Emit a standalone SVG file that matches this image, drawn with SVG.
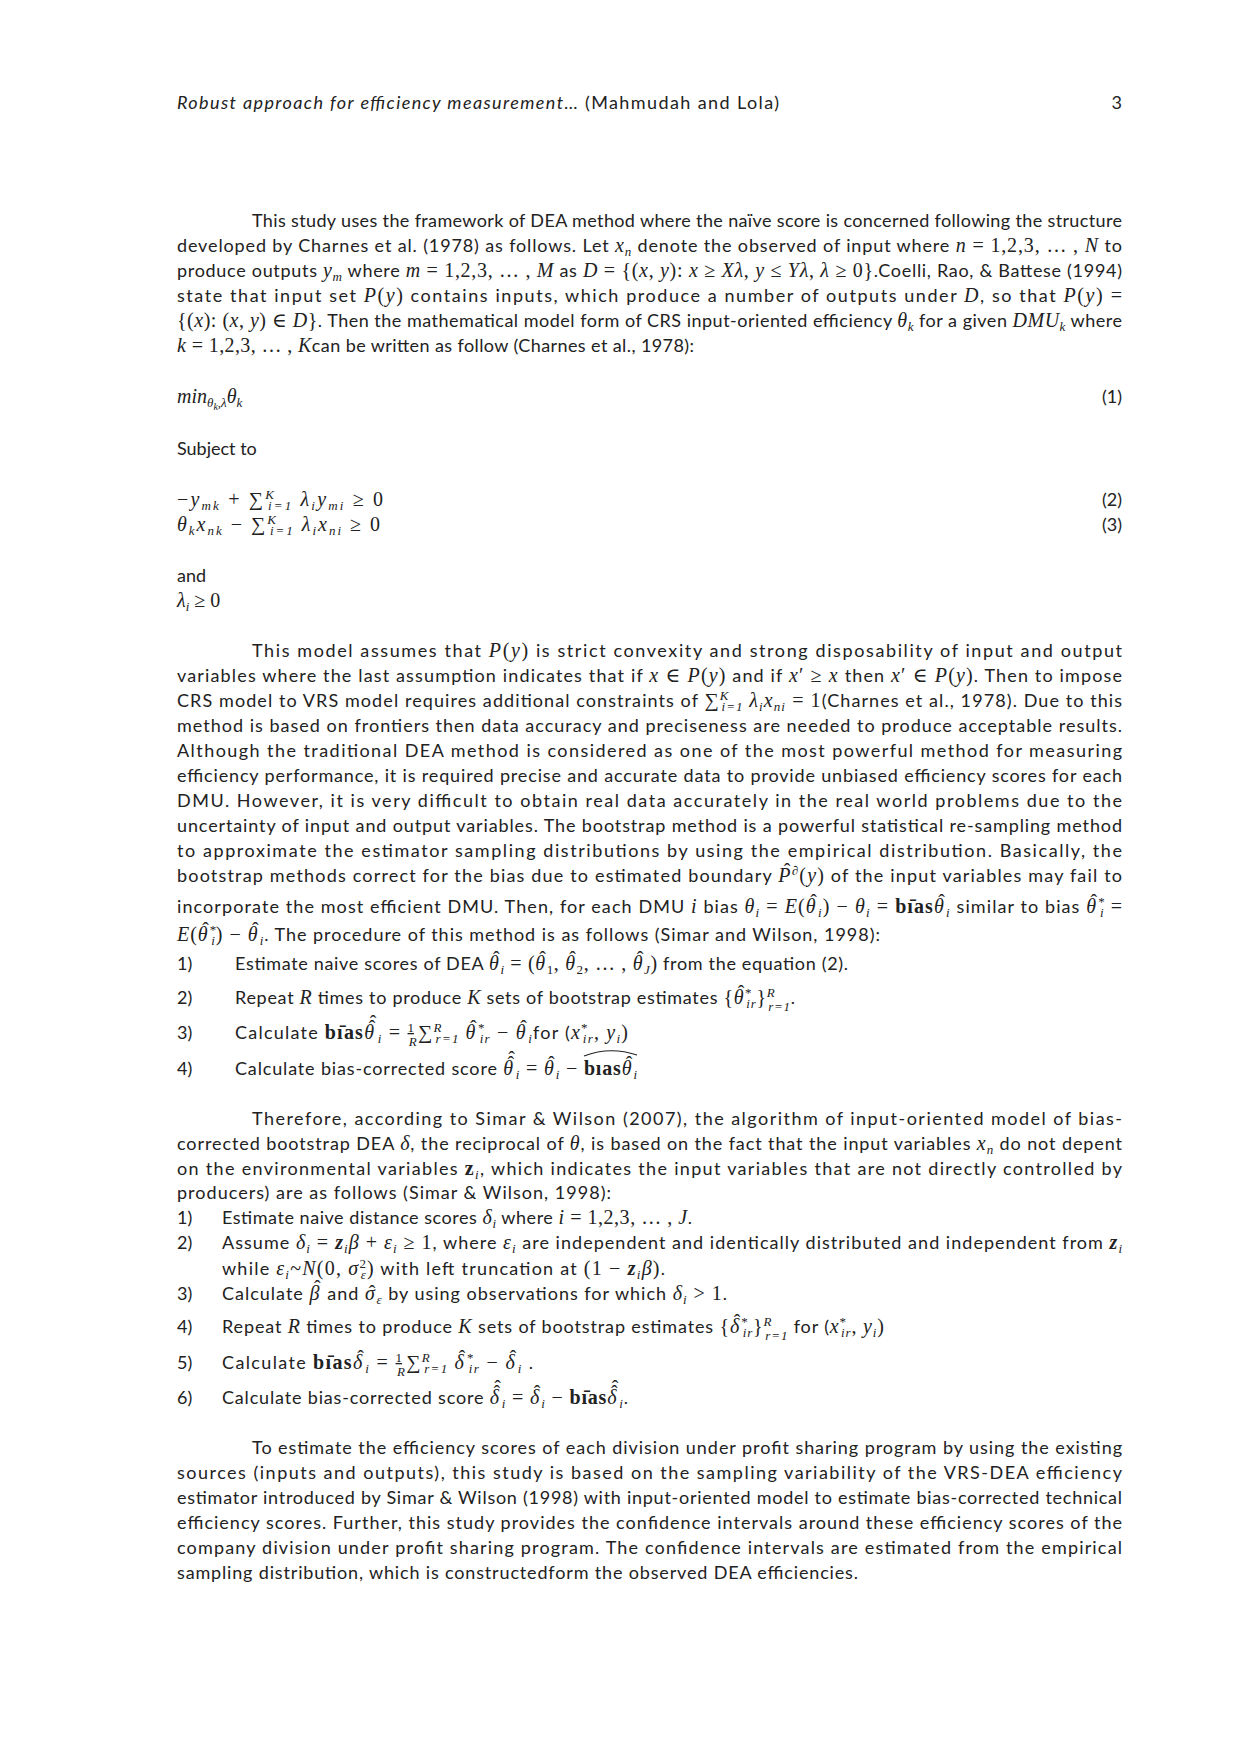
<svg xmlns="http://www.w3.org/2000/svg" width="1240" height="1754" viewBox="0 0 1240 1754">
<style>
text{fill:#222}
.t{font-family:Lato,"Liberation Sans",sans-serif;font-size:18px}
.m{font-family:"Liberation Serif","DejaVu Serif",serif;font-style:italic;font-size:20px}
.u{font-family:"Liberation Serif","DejaVu Serif",serif;font-style:normal;font-size:20px}
.h{font-family:"Liberation Serif","DejaVu Serif",serif;font-style:normal;font-size:20px;baseline-shift:4px}
.h2{font-family:"Liberation Serif","DejaVu Serif",serif;font-style:normal;font-size:20px;baseline-shift:9px}
.s{font-size:13px}
.x{font-size:10px}
.sb{baseline-shift:-4px}
.sp{baseline-shift:7px}
.fn{baseline-shift:7px;text-decoration:underline}
.fd{baseline-shift:-7px}
.b{font-weight:bold}
.i{font-style:italic}
.e{text-anchor:end}
.deco{fill:none;stroke:#222;stroke-width:1.1}
</style>
<rect width="1240" height="1754" fill="#fff"/>

<g id="header">
<text class="t" x="177" y="109" textLength="602" lengthAdjust="spacing"><tspan class="i">Robust approach for efficiency measurement… </tspan>(Mahmudah and Lola)</text>
<text class="t e" x="1122" y="109">3</text>
</g>

<g id="para1">
<text class="t" x="252" y="227" textLength="870" lengthAdjust="spacing">This study uses the framework of DEA method where the naïve score is concerned following the structure</text>
<text class="t" x="177" y="252" textLength="945" lengthAdjust="spacing">developed by Charnes et al. (1978) as follows. Let <tspan class="m">x</tspan><tspan class="m s sb">n</tspan> denote the observed of input where <tspan class="m">n</tspan><tspan class="u"> = 1,2,3, … , </tspan><tspan class="m">N</tspan> to</text>
<text class="t" x="177" y="277" textLength="945" lengthAdjust="spacing">produce outputs <tspan class="m">y</tspan><tspan class="m s sb">m</tspan> where <tspan class="m">m</tspan><tspan class="u"> = 1,2,3, … , </tspan><tspan class="m">M</tspan> as <tspan class="m">D</tspan><tspan class="u"> = {(</tspan><tspan class="m">x</tspan><tspan class="u">, </tspan><tspan class="m">y</tspan><tspan class="u">): </tspan><tspan class="m">x</tspan><tspan class="u"> ≥ </tspan><tspan class="m">Xλ</tspan><tspan class="u">, </tspan><tspan class="m">y</tspan><tspan class="u"> ≤ </tspan><tspan class="m">Yλ</tspan><tspan class="u">, </tspan><tspan class="m">λ</tspan><tspan class="u"> ≥ 0}</tspan>.Coelli, Rao, &amp; Battese (1994)</text>
<text class="t" x="177" y="302" textLength="945" lengthAdjust="spacing">state that input set <tspan class="m">P</tspan><tspan class="u">(</tspan><tspan class="m">y</tspan><tspan class="u">)</tspan> contains inputs, which produce a number of outputs under <tspan class="m">D</tspan>, so that <tspan class="m">P</tspan><tspan class="u">(</tspan><tspan class="m">y</tspan><tspan class="u">) =</tspan></text>
<text class="t" x="177" y="327" textLength="945" lengthAdjust="spacing"><tspan class="u">{(</tspan><tspan class="m">x</tspan><tspan class="u">): (</tspan><tspan class="m">x</tspan><tspan class="u">, </tspan><tspan class="m">y</tspan><tspan class="u">) ∈ </tspan><tspan class="m">D</tspan><tspan class="u">}</tspan>. Then the mathematical model form of CRS input-oriented efficiency <tspan class="m">θ</tspan><tspan class="m s sb">k</tspan> for a given <tspan class="m">DMU</tspan><tspan class="m s sb">k</tspan> where</text>
<text class="t" x="177" y="352" textLength="517" lengthAdjust="spacing"><tspan class="m">k</tspan><tspan class="u"> = 1,2,3, … , </tspan><tspan class="m">K</tspan>can be written as follow (Charnes et al., 1978):</text>
</g>

<g id="model">
<text class="m" x="177" y="403">min<tspan class="s sb">θ</tspan><tspan class="x" style="baseline-shift:-7px">k</tspan><tspan class="s sb">,λ</tspan>θ<tspan class="s sb">k</tspan></text>
<text class="t e" x="1122" y="403">(1)</text>
<text class="t" x="177" y="455">Subject to</text>
<text class="m" x="177" y="506" textLength="206" lengthAdjust="spacing"><tspan class="u">−</tspan>y<tspan class="s sb">mk</tspan><tspan class="u"> + ∑</tspan><tspan class="s sp">K</tspan><tspan class="s sb" dx="-8">i=1</tspan> λ<tspan class="s sb">i</tspan>y<tspan class="s sb">mi</tspan><tspan class="u"> ≥ 0</tspan></text>
<text class="t e" x="1122" y="506">(2)</text>
<text class="m" x="177" y="531" textLength="203" lengthAdjust="spacing">θ<tspan class="s sb">k</tspan>x<tspan class="s sb">nk</tspan><tspan class="u"> − ∑</tspan><tspan class="s sp">K</tspan><tspan class="s sb" dx="-8">i=1</tspan> λ<tspan class="s sb">i</tspan>x<tspan class="s sb">ni</tspan><tspan class="u"> ≥ 0</tspan></text>
<text class="t e" x="1122" y="531">(3)</text>
<text class="t" x="177" y="582">and</text>
<text class="m" x="177" y="607">λ<tspan class="s sb">i</tspan><tspan class="u"> ≥ 0</tspan></text>
</g>

<g id="para2">
<text class="t" x="252" y="657" textLength="870" lengthAdjust="spacing">This model assumes that <tspan class="m">P</tspan><tspan class="u">(</tspan><tspan class="m">y</tspan><tspan class="u">)</tspan> is strict convexity and strong disposability of input and output</text>
<text class="t" x="177" y="682" textLength="945" lengthAdjust="spacing">variables where the last assumption indicates that if <tspan class="m">x</tspan><tspan class="u"> ∈ </tspan><tspan class="m">P</tspan><tspan class="u">(</tspan><tspan class="m">y</tspan><tspan class="u">)</tspan> and if <tspan class="m">x</tspan><tspan class="u">′ ≥ </tspan><tspan class="m">x</tspan> then <tspan class="m">x</tspan><tspan class="u">′ ∈ </tspan><tspan class="m">P</tspan><tspan class="u">(</tspan><tspan class="m">y</tspan><tspan class="u">)</tspan>. Then to impose</text>
<text class="t" x="177" y="707" textLength="945" lengthAdjust="spacing">CRS model to VRS model requires additional constraints of <tspan class="u">∑</tspan><tspan class="m s sp">K</tspan><tspan class="m s sb" dx="-8">i=1</tspan> <tspan class="m">λ</tspan><tspan class="m s sb">i</tspan><tspan class="m">x</tspan><tspan class="m s sb">ni</tspan><tspan class="u"> = 1</tspan>(Charnes et al., 1978). Due to this</text>
<text class="t" x="177" y="732" textLength="945" lengthAdjust="spacing">method is based on frontiers then data accuracy and preciseness are needed to produce acceptable results.</text>
<text class="t" x="177" y="757" textLength="945" lengthAdjust="spacing">Although the traditional DEA method is considered as one of the most powerful method for measuring</text>
<text class="t" x="177" y="782" textLength="945" lengthAdjust="spacing">efficiency performance, it is required precise and accurate data to provide unbiased efficiency scores for each</text>
<text class="t" x="177" y="807" textLength="945" lengthAdjust="spacing">DMU. However, it is very difficult to obtain real data accurately in the real world problems due to the</text>
<text class="t" x="177" y="832" textLength="945" lengthAdjust="spacing">uncertainty of input and output variables. The bootstrap method is a powerful statistical re-sampling method</text>
<text class="t" x="177" y="857" textLength="945" lengthAdjust="spacing">to approximate the estimator sampling distributions by using the empirical distribution. Basically, the</text>
<text class="t" x="177" y="882" textLength="945" lengthAdjust="spacing">bootstrap methods correct for the bias due to estimated boundary <tspan class="m">P</tspan><tspan class="h" dx="-7.7">ˆ</tspan><tspan class="m s sp">∂</tspan><tspan class="u">(</tspan><tspan class="m">y</tspan><tspan class="u">)</tspan> of the input variables may fail to</text>
<text class="t" x="177" y="913" textLength="945" lengthAdjust="spacing">incorporate the most efficient DMU. Then, for each DMU <tspan class="m">i</tspan> bias <tspan class="m">θ</tspan><tspan class="m s sb">i</tspan><tspan class="u"> = </tspan><tspan class="m">E</tspan><tspan class="u">(</tspan><tspan class="m">θ</tspan><tspan class="h" dx="-6.5">ˆ</tspan><tspan class="m s sb">i</tspan><tspan class="u">) − </tspan><tspan class="m">θ</tspan><tspan class="m s sb">i</tspan><tspan class="u"> = </tspan><tspan class="u b">bı̄as</tspan><tspan class="m">θ</tspan><tspan class="h" dx="-6.5">ˆ</tspan><tspan class="m s sb">i</tspan> similar to bias <tspan class="m">θ</tspan><tspan class="h" dx="-6.5">ˆ</tspan><tspan class="u s sp">*</tspan><tspan class="m s sb" dx="-6">i</tspan><tspan class="u"> =</tspan></text>
<text class="t" x="177" y="941" textLength="703" lengthAdjust="spacing"><tspan class="m">E</tspan><tspan class="u">(</tspan><tspan class="m">θ</tspan><tspan class="h" dx="-6.5">ˆ</tspan><tspan class="u s sp">*</tspan><tspan class="m s sb" dx="-6">i</tspan><tspan class="u">) − </tspan><tspan class="m">θ</tspan><tspan class="h" dx="-6.5">ˆ</tspan><tspan class="m s sb">i</tspan>. The procedure of this method is as follows (Simar and Wilson, 1998):</text>
</g>

<g id="list1">
<text class="t" x="177" y="970">1)</text>
<text class="t" x="235" y="970" textLength="613" lengthAdjust="spacing">Estimate naive scores of DEA <tspan class="m">θ</tspan><tspan class="h" dx="-6.5">ˆ</tspan><tspan class="m s sb">i</tspan><tspan class="u"> = (</tspan><tspan class="m">θ</tspan><tspan class="h" dx="-6.5">ˆ</tspan><tspan class="u s sb">1</tspan><tspan class="u">, </tspan><tspan class="m">θ</tspan><tspan class="h" dx="-6.5">ˆ</tspan><tspan class="u s sb">2</tspan><tspan class="u">, … , </tspan><tspan class="m">θ</tspan><tspan class="h" dx="-6.5">ˆ</tspan><tspan class="m s sb">J</tspan><tspan class="u">)</tspan> from the equation (2).</text>
<text class="t" x="177" y="1004">2)</text>
<text class="t" x="235" y="1004" textLength="560" lengthAdjust="spacing">Repeat <tspan class="m">R</tspan> times to produce <tspan class="m">K</tspan> sets of bootstrap estimates <tspan class="u">{</tspan><tspan class="m">θ</tspan><tspan class="h" dx="-6.5">ˆ</tspan><tspan class="u s sp">*</tspan><tspan class="m s sb" dx="-6">ir</tspan><tspan class="u">}</tspan><tspan class="m s sp">R</tspan><tspan class="m s" dx="-7" style="baseline-shift:-7px">r=1</tspan>.</text>
<text class="t" x="177" y="1039">3)</text>
<text class="t" x="235" y="1039" textLength="393" lengthAdjust="spacing">Calculate <tspan class="u b">bı̄as</tspan><tspan class="m">θ</tspan><tspan class="h" dx="-6.5">ˆ</tspan><tspan class="h2" dx="-6.7">ˆ</tspan><tspan class="m s sb">i</tspan><tspan class="u"> = </tspan><tspan class="u s fn">1</tspan><tspan class="m s fd" dx="-6.5">R</tspan><tspan class="u">∑</tspan><tspan class="m s sp">R</tspan><tspan class="m s sb" dx="-7">r=1</tspan> <tspan class="m">θ</tspan><tspan class="h" dx="-6.5">ˆ</tspan><tspan class="u s sp">*</tspan><tspan class="m s sb" dx="-6">ir</tspan><tspan class="u"> − </tspan><tspan class="m">θ</tspan><tspan class="h" dx="-6.5">ˆ</tspan><tspan class="m s sb">i</tspan>for (<tspan class="m">x</tspan><tspan class="u s sp">*</tspan><tspan class="m s sb" dx="-6">ir</tspan><tspan class="u">, </tspan><tspan class="m">y</tspan><tspan class="m s sb">i</tspan><tspan class="u">)</tspan></text>
<text class="t" x="177" y="1075">4)</text>
<text class="t" x="235" y="1075" textLength="402" lengthAdjust="spacing">Calculate bias-corrected score <tspan class="m">θ</tspan><tspan class="h" dx="-6.5">ˆ</tspan><tspan class="h2" dx="-6.7">ˆ</tspan><tspan class="m s sb">i</tspan><tspan class="u"> = </tspan><tspan class="m">θ</tspan><tspan class="h" dx="-6.5">ˆ</tspan><tspan class="m s sb">i</tspan><tspan class="u"> − </tspan><tspan class="u b">bıas</tspan><tspan class="m">θ</tspan><tspan class="h" dx="-6.5">ˆ</tspan><tspan class="m s sb">i</tspan></text>
<path class="deco" d="M584 1056 Q610 1046 637 1055"/>
</g>

<g id="para3">
<text class="t" x="252" y="1125" textLength="870" lengthAdjust="spacing">Therefore, according to Simar &amp; Wilson (2007), the algorithm of input-oriented model of bias-</text>
<text class="t" x="177" y="1150" textLength="945" lengthAdjust="spacing">corrected bootstrap DEA <tspan class="m">δ</tspan>, the reciprocal of <tspan class="m">θ</tspan>, is based on the fact that the input variables <tspan class="m">x</tspan><tspan class="m s sb">n</tspan>  do not depent</text>
<text class="t" x="177" y="1175" textLength="945" lengthAdjust="spacing">on the environmental variables <tspan class="u b">z</tspan><tspan class="m s sb">i</tspan>, which indicates the input variables that are not directly controlled by</text>
<text class="t" x="177" y="1199" textLength="434" lengthAdjust="spacing">producers) are as follows (Simar &amp; Wilson, 1998):</text>
</g>

<g id="list2">
<text class="t" x="177" y="1224">1)</text>
<text class="t" x="222" y="1224" textLength="470" lengthAdjust="spacing">Estimate naive distance scores <tspan class="m">δ</tspan><tspan class="m s sb">i</tspan> where <tspan class="m">i</tspan><tspan class="u"> = 1,2,3, … , </tspan><tspan class="m">J</tspan>.</text>
<text class="t" x="177" y="1249">2)</text>
<text class="t" x="222" y="1249" textLength="900" lengthAdjust="spacing">Assume <tspan class="m">δ</tspan><tspan class="m s sb">i</tspan><tspan class="u"> = </tspan><tspan class="m b">z</tspan><tspan class="m s sb">i</tspan><tspan class="m">β</tspan><tspan class="u"> + </tspan><tspan class="m">ε</tspan><tspan class="m s sb">i</tspan><tspan class="u"> ≥ 1</tspan>, where <tspan class="m">ε</tspan><tspan class="m s sb">i</tspan> are independent and identically distributed and independent from <tspan class="m b">z</tspan><tspan class="m s sb">i</tspan></text>
<text class="t" x="222" y="1275" textLength="443" lengthAdjust="spacing">while <tspan class="m">ε</tspan><tspan class="m s sb">i</tspan><tspan class="u">~</tspan><tspan class="m">N</tspan><tspan class="u">(0, </tspan><tspan class="m">σ</tspan><tspan class="u s sp">2</tspan><tspan class="m s sb" dx="-6.5">ε</tspan><tspan class="u">)</tspan> with left truncation at <tspan class="u">(1 − </tspan><tspan class="m b">z</tspan><tspan class="m s sb">i</tspan><tspan class="m">β</tspan><tspan class="u">)</tspan>.</text>
<text class="t" x="177" y="1300">3)</text>
<text class="t" x="222" y="1300" textLength="505" lengthAdjust="spacing">Calculate <tspan class="m">β</tspan><tspan class="h" dx="-6.3" style="baseline-shift:5px">ˆ</tspan> and <tspan class="m">σ</tspan><tspan class="u" dx="-7">ˆ</tspan><tspan class="m s sb">ε</tspan> by using observations for which <tspan class="m">δ</tspan><tspan class="m s sb">i</tspan><tspan class="u"> &gt; 1</tspan>.</text>
<text class="t" x="177" y="1333">4)</text>
<text class="t" x="222" y="1333" textLength="662" lengthAdjust="spacing">Repeat <tspan class="m">R</tspan> times to produce <tspan class="m">K</tspan> sets of bootstrap estimates <tspan class="u">{</tspan><tspan class="m">δ</tspan><tspan class="h" dx="-6.3">ˆ</tspan><tspan class="u s sp">*</tspan><tspan class="m s sb" dx="-6">ir</tspan><tspan class="u">}</tspan><tspan class="m s sp">R</tspan><tspan class="m s" dx="-7" style="baseline-shift:-7px">r=1</tspan> for (<tspan class="m">x</tspan><tspan class="u s sp">*</tspan><tspan class="m s sb" dx="-6">ir</tspan><tspan class="u">, </tspan><tspan class="m">y</tspan><tspan class="m s sb">i</tspan><tspan class="u">)</tspan></text>
<text class="t" x="177" y="1369">5)</text>
<text class="t" x="222" y="1369" textLength="311" lengthAdjust="spacing">Calculate <tspan class="u b">bı̄as</tspan><tspan class="m">δ</tspan><tspan class="h" dx="-6.3">ˆ</tspan><tspan class="m s sb">i</tspan><tspan class="u"> = </tspan><tspan class="u s fn">1</tspan><tspan class="m s fd" dx="-6.5">R</tspan><tspan class="u">∑</tspan><tspan class="m s sp">R</tspan><tspan class="m s sb" dx="-7">r=1</tspan> <tspan class="m">δ</tspan><tspan class="h" dx="-6.3">ˆ</tspan><tspan class="u s sp">*</tspan><tspan class="m s sb" dx="-6">ir</tspan><tspan class="u"> − </tspan><tspan class="m">δ</tspan><tspan class="h" dx="-6.3">ˆ</tspan><tspan class="m s sb">i</tspan> .</text>
<text class="t" x="177" y="1404">6)</text>
<text class="t" x="222" y="1404" textLength="406" lengthAdjust="spacing">Calculate bias-corrected score <tspan class="m">δ</tspan><tspan class="h" dx="-6.3">ˆ</tspan><tspan class="h2" dx="-6.7">ˆ</tspan><tspan class="m s sb">i</tspan><tspan class="u"> = </tspan><tspan class="m">δ</tspan><tspan class="h" dx="-6.3">ˆ</tspan><tspan class="m s sb">i</tspan><tspan class="u"> − </tspan><tspan class="u b">bı̄as</tspan><tspan class="m">δ</tspan><tspan class="h" dx="-6.3">ˆ</tspan><tspan class="h2" dx="-6.7">ˆ</tspan><tspan class="m s sb">i</tspan>.</text>
</g>

<g id="para4">
<text class="t" x="252" y="1454" textLength="870" lengthAdjust="spacing">To estimate the efficiency scores of each division under profit sharing program by using the existing</text>
<text class="t" x="177" y="1479" textLength="945" lengthAdjust="spacing">sources (inputs and outputs), this study is based on the sampling variability of the VRS-DEA efficiency</text>
<text class="t" x="177" y="1504" textLength="945" lengthAdjust="spacing">estimator introduced by Simar &amp; Wilson (1998) with input-oriented model to estimate bias-corrected technical</text>
<text class="t" x="177" y="1529" textLength="945" lengthAdjust="spacing">efficiency scores. Further, this study provides the confidence intervals around these efficiency scores of the</text>
<text class="t" x="177" y="1554" textLength="945" lengthAdjust="spacing">company division under profit sharing program. The confidence intervals are estimated from the empirical</text>
<text class="t" x="177" y="1579" textLength="681" lengthAdjust="spacing">sampling distribution, which is constructedform the observed DEA efficiencies.</text>
</g>
</svg>
